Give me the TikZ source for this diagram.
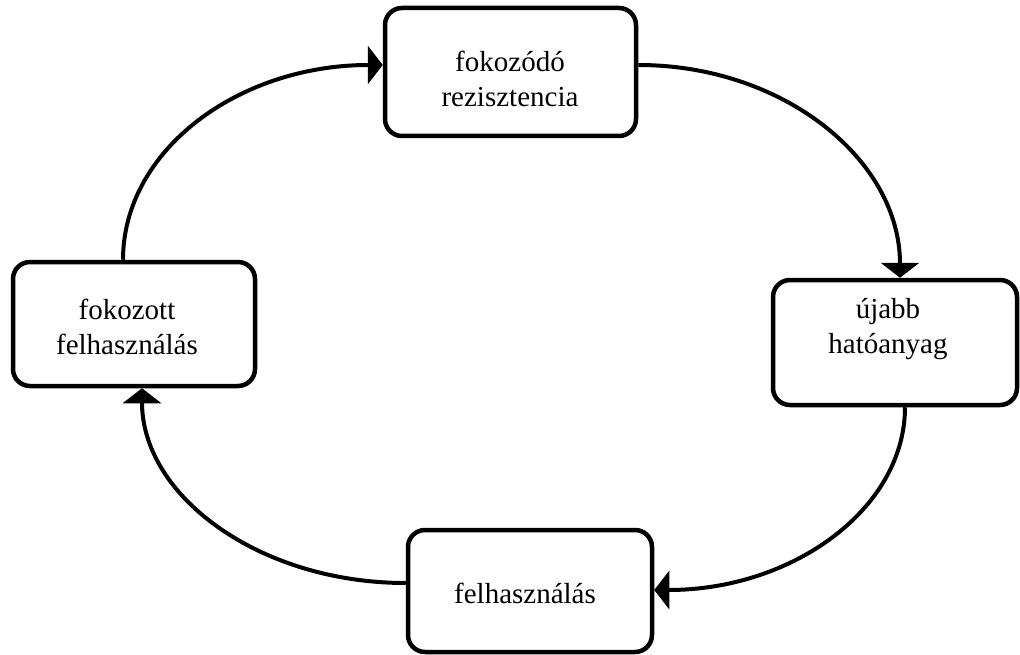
\documentclass[tikz,border=0pt]{standalone}
\usepackage{fontspec}
\setmainfont{Liberation Serif}
\usetikzlibrary{arrows.meta,calc}
\tikzset{
  box/.style={draw, line width=4.5pt, rounded corners=17pt, fill=white},
  lbl/.style={align=center, font=\fontsize{29}{35}\selectfont, inner sep=0pt},
  conn/.style={line width=4pt},
  arr/.style={conn, -{Triangle[length=15pt,width=38pt]}}
}
\begin{document}
\begin{tikzpicture}[x=1pt,y=-1pt]
\useasboundingbox (0,0) rectangle (1020,655);
\node[box, minimum width=251pt, minimum height=128pt] (T) at (510.5,72) {};
\node[box, minimum width=244pt, minimum height=125pt] (R) at (895,342.5) {};
\node[box, minimum width=244pt, minimum height=122pt] (B) at (530,591) {};
\node[box, minimum width=242pt, minimum height=124pt] (L) at (134,324) {};
\node[lbl, anchor=base] (tT) at (510,107) {fokozódó\\rezisztencia};
\node[lbl, anchor=base] (tR) at (888,353) {újabb\\hatóanyag};
\node[lbl, anchor=base] (tB) at (525,603) {felhasználás};
\node[lbl, anchor=base] (tL) at (127,354) {fokozott\\felhasználás};
\draw[arr] ($(L.north)+(-11,0)$) .. controls +(0,-109) and +(-145,0) .. ($(T.west)+(0,-7)$);
\draw[arr] ($(T.east)+(0,-7)$) .. controls +(145,0) and +(0,-118) .. ($(R.north)+(5,0)$);
\draw[arr] ($(R.south)+(10,0)$) .. controls +(0,101) and +(139,0) .. ($(B.east)+(0,-1)$);
\draw[arr] ($(B.west)+(0,-8)$) .. controls +(-146,0) and +(0,108) .. ($(L.south)+(8,0)$);
\end{tikzpicture}
\end{document}
